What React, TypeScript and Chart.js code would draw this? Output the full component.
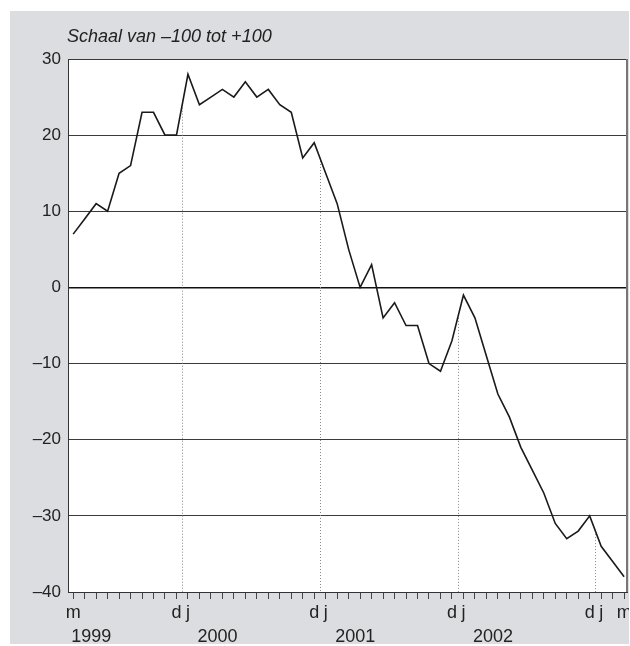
import React, { useEffect, useRef } from "react";
import { Chart, registerables } from "chart.js";

Chart.register(...registerables);

// ---- data ----
const months = [
  "1999-03", "1999-04", "1999-05", "1999-06", "1999-07", "1999-08", "1999-09", "1999-10", "1999-11", "1999-12",
  "2000-01", "2000-02", "2000-03", "2000-04", "2000-05", "2000-06", "2000-07", "2000-08", "2000-09", "2000-10", "2000-11", "2000-12",
  "2001-01", "2001-02", "2001-03", "2001-04", "2001-05", "2001-06", "2001-07", "2001-08", "2001-09", "2001-10", "2001-11", "2001-12",
  "2002-01", "2002-02", "2002-03", "2002-04", "2002-05", "2002-06", "2002-07", "2002-08", "2002-09", "2002-10", "2002-11", "2002-12",
  "2003-01", "2003-02", "2003-03",
];

const values = [
  7, 9, 11, 10, 15, 16, 23, 23, 20, 20,
  28, 24, 25, 26, 25, 27, 25, 26, 24, 23, 17, 19,
  15, 11, 5, 0, 3, -4, -2, -5, -5, -10, -11, -7,
  -1, -4, -9, -14, -17, -21, -24, -27, -31, -33, -32, -30,
  -34, -36, -38,
];

const xTickLabels = [
  "m", "", "", "", "", "", "", "", "", "d",
  "j", "", "", "", "", "", "", "", "", "", "", "d",
  "j", "", "", "", "", "", "", "", "", "", "", "d",
  "j", "", "", "", "", "", "", "", "", "", "", "d",
  "j", "", "m",
];

const yTicks = [-40, -30, -20, -10, 0, 10, 20, 30];
const yTickLabels = ["\u201340", "\u201330", "\u201320", "\u201310", "0", "10", "20", "30"];

const yearLabels = ["1999", "2000", "2001", "2002"];
const yearLabelMonths = ["1999-03", "2000-02", "2001-02", "2002-02"];
const yearEndMonths = ["1999-12", "2000-12", "2001-12", "2002-12"];

const title = "Schaal van \u2013100 tot +100";

// ---- styles ----
const BG = "#dcdde0";
const INK = "#222222";
const FONT = "'Liberation Sans', Arial, sans-serif";

const decorPlugin = {
  id: "decor",
  beforeDraw(chart: any) {
    const { ctx, chartArea: a, width, height } = chart;
    ctx.save();
    ctx.fillStyle = BG;
    ctx.fillRect(0, 0, width, height);
    ctx.fillStyle = "#ffffff";
    ctx.fillRect(a.left, a.top, a.right - a.left, a.bottom - a.top);
    ctx.restore();
  },
  beforeDatasetsDraw(chart: any) {
    const { ctx, chartArea: a, scales } = chart;
    const xs = scales.x;
    const ys = scales.y;
    ctx.save();
    ctx.strokeStyle = "#888888";
    ctx.lineWidth = 1;
    ctx.setLineDash([1, 2]);
    yearEndMonths.forEach((m) => {
      const i = months.indexOf(m);
      const x = Math.round((xs.getPixelForValue(i) + xs.getPixelForValue(i + 1)) / 2) + 0.5;
      const y = (ys.getPixelForValue(values[i]) + ys.getPixelForValue(values[i + 1])) / 2;
      ctx.beginPath();
      ctx.moveTo(x, y);
      ctx.lineTo(x, a.bottom);
      ctx.stroke();
    });
    ctx.restore();
  },
  afterDraw(chart: any) {
    const { ctx, chartArea: a, scales } = chart;
    const xs = scales.x;
    ctx.save();
    // right frame
    ctx.strokeStyle = "#777777";
    ctx.lineWidth = 2;
    ctx.beginPath();
    ctx.moveTo(a.right, a.top);
    ctx.lineTo(a.right, a.bottom);
    ctx.stroke();

    ctx.fillStyle = INK;
    // month labels
    ctx.font = `18px ${FONT}`;
    ctx.textAlign = "center";
    ctx.textBaseline = "alphabetic";
    xTickLabels.forEach((lab, i) => {
      if (!lab) return;
      ctx.fillText(lab, xs.getPixelForValue(i), a.bottom + 26);
    });
    // year labels
    ctx.textAlign = "left";
    yearLabels.forEach((lab, k) => {
      const i = months.indexOf(yearLabelMonths[k]);
      ctx.fillText(lab, xs.getPixelForValue(i) - 2, a.bottom + 50);
    });
    // title
    ctx.font = `italic 18px ${FONT}`;
    ctx.fillText(title, a.left - 1, 31);
    ctx.restore();
  },
};

export default function App() {
  const ref = useRef<HTMLCanvasElement | null>(null);

  useEffect(() => {
    if (!ref.current) return;
    const chart = new Chart(ref.current, {
      type: "line",
      data: {
        datasets: [
          {
            data: values.map((v, i) => ({ x: i, y: v })),
            borderColor: "#1a1a1a",
            borderWidth: 1.6,
            pointRadius: 0,
            tension: 0,
            fill: false,
          },
        ],
      },
      options: {
        animation: false,
        responsive: false,
        devicePixelRatio: 1,
        layout: { padding: { top: 48, right: 2, left: 0, bottom: 0 } },
        plugins: {
          legend: { display: false },
          tooltip: { enabled: false },
          title: { display: false },
        },
        scales: {
          x: {
            type: "linear",
            min: -0.45,
            max: 48.25,
            afterBuildTicks: (s: any) => {
              s.ticks = months.map((_, i) => ({ value: i }));
            },
            afterFit: (s: any) => {
              s.height = 52;
            },
            ticks: { display: false },
            grid: {
              display: true,
              drawOnChartArea: false,
              drawTicks: true,
              tickLength: 7,
              color: "#444444",
              lineWidth: 1,
            },
            border: { display: true, color: "#333333", width: 1 },
          },
          y: {
            min: -40,
            max: 30,
            afterBuildTicks: (s: any) => {
              s.ticks = yTicks.map((v) => ({ value: v }));
            },
            afterFit: (s: any) => {
              s.width = 58;
            },
            ticks: {
              callback: (v: any) => yTickLabels[yTicks.indexOf(Number(v))],
              font: { size: 17, family: FONT },
              color: INK,
              padding: 7,
            },
            grid: {
              drawTicks: false,
              color: (c: any) => (c.tick && c.tick.value === 0 ? "#111111" : "#3a3a3a"),
              lineWidth: (c: any) => (c.tick && c.tick.value === 0 ? 1.6 : 1),
            },
            border: { display: true, color: "#333333", width: 1 },
          },
        },
      },
      plugins: [decorPlugin],
    });
    return () => chart.destroy();
  }, []);

  return (
    <div style={{ position: "absolute", left: 10, top: 11 }}>
      <canvas ref={ref} width={619} height={633} style={{ display: "block" }} />
    </div>
  );
}
